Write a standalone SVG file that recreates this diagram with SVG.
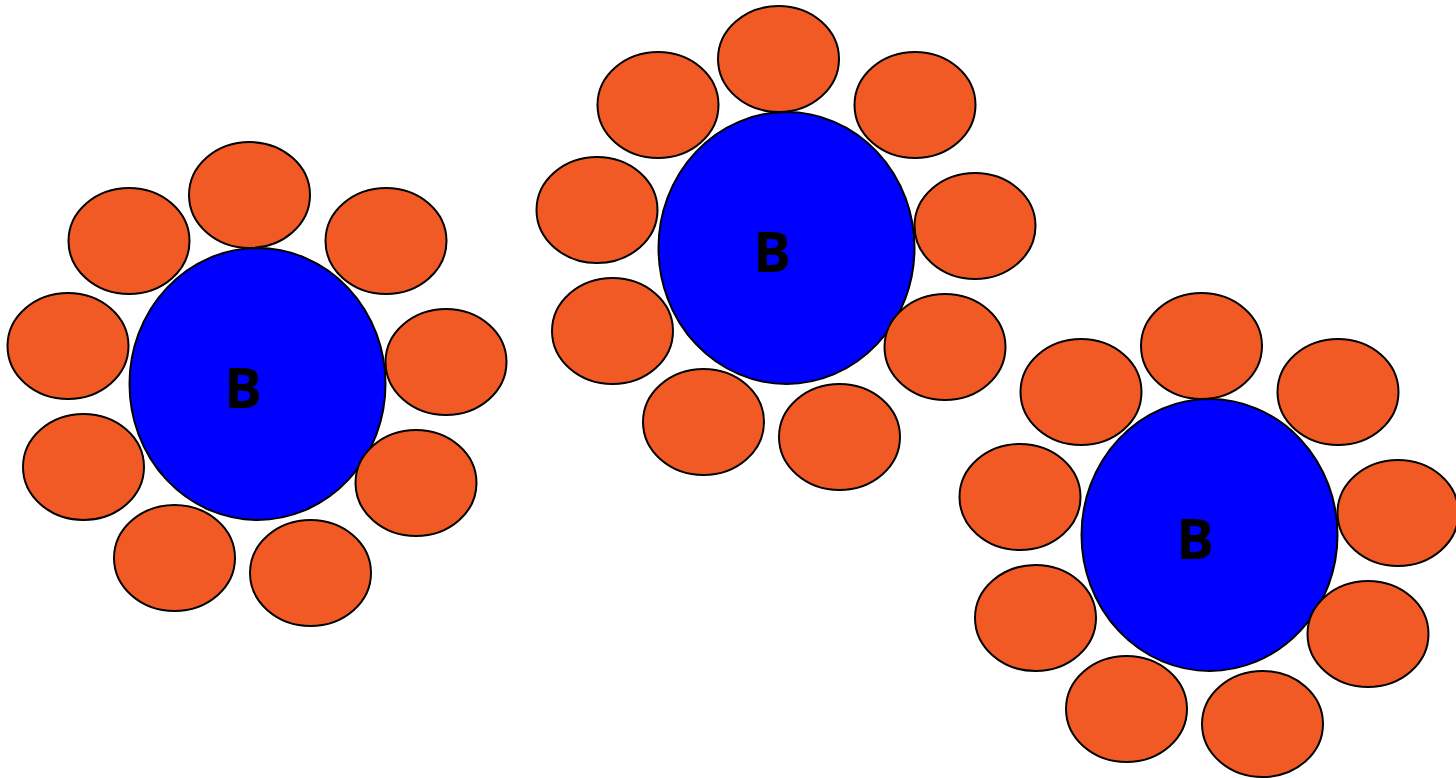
<svg xmlns="http://www.w3.org/2000/svg" width="1456" height="778" viewBox="0 0 1456 778">
<style>
.core{fill:#0000ff;stroke:#000;stroke-width:2}
.pet{fill:#f15a24;stroke:#000;stroke-width:2}
.lbl{font-family:"Open Sans","Liberation Sans",sans-serif;font-weight:bold;font-size:56px;fill:#000;text-anchor:middle}
</style>
<rect width="1456" height="778" fill="#fff"/>
<defs>
<g id="cluster">
<ellipse class="core" cx="257.5" cy="384" rx="128" ry="136"/>
<ellipse class="pet" cx="249.5" cy="195" rx="60.5" ry="53"/>
<ellipse class="pet" cx="129" cy="241" rx="60.5" ry="53"/>
<ellipse class="pet" cx="386" cy="241" rx="60.5" ry="53"/>
<ellipse class="pet" cx="68" cy="346" rx="60.5" ry="53"/>
<ellipse class="pet" cx="446" cy="362" rx="60.5" ry="53"/>
<ellipse class="pet" cx="83.5" cy="467" rx="60.5" ry="53"/>
<ellipse class="pet" cx="416" cy="483" rx="60.5" ry="53"/>
<ellipse class="pet" cx="174.5" cy="558" rx="60.5" ry="53"/>
<ellipse class="pet" cx="310.5" cy="573" rx="60.5" ry="53"/>
<text class="lbl" x="243" y="408">B</text>
</g>
</defs>
<g id="cluster1"><use href="#cluster"/></g>
<g id="cluster2"><use href="#cluster" transform="translate(529,-136)"/></g>
<g id="cluster3"><use href="#cluster" transform="translate(952,151)"/></g>
<g id="connectors"></g>
</svg>
